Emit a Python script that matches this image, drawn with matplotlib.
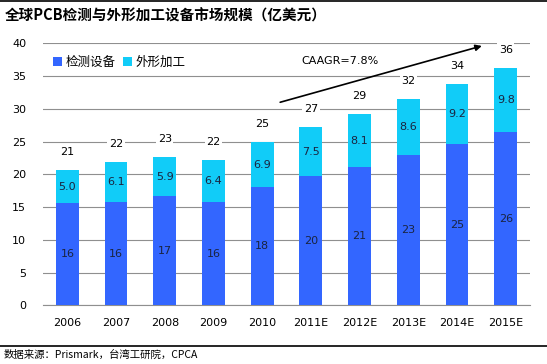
import matplotlib.pyplot as plt
import numpy as np

plt.rcParams['font.family'] = ['DejaVu Sans', 'Noto Sans CJK SC']

# data (亿美元)
years = ["2006", "2007", "2008", "2009", "2010",
         "2011E", "2012E", "2013E", "2014E", "2015E"]
inspect = [15.6, 15.8, 16.7, 15.8, 18.0, 19.7, 21.1, 22.9, 24.6, 26.4]
shaping = [5.0, 6.1, 5.9, 6.4, 6.9, 7.5, 8.1, 8.6, 9.2, 9.8]
yticks = [0, 5, 10, 15, 20, 25, 30, 35, 40]

blue = '#3366ff'
cyan = '#11ccf8'
grid = '#8f8f8f'
txt = '#1a2440'

fig = plt.figure(figsize=(5.47, 3.64), dpi=100)
ax = fig.add_axes([0.0786, 0.1613, 0.8904, 0.7197])

x = np.arange(len(years))
w = 0.47
totals = np.array(inspect) + np.array(shaping)

ax.bar(x, inspect, w, color=blue, label='检测设备', zorder=3)
ax.bar(x, shaping, w, bottom=inspect, color=cyan, label='外形加工', zorder=3)

for i in range(len(years)):
    ax.text(x[i], inspect[i] / 2, f"{inspect[i]:.0f}", ha='center', va='center',
            fontsize=8, color=txt, zorder=4)
    ax.text(x[i], inspect[i] + shaping[i] / 2, f"{shaping[i]:.1f}", ha='center',
            va='center', fontsize=8, color=txt, zorder=4)
    ax.annotate(f"{totals[i]:.0f}", (x[i], totals[i]), xytext=(0, 13),
                textcoords='offset points', ha='center', va='center', fontsize=8,
                color='black', zorder=4,
                bbox=dict(boxstyle='square,pad=0.15', fc='white', ec='none'))

ax.set_xlim(-0.5, len(years) - 0.5)
ax.set_ylim(0, 40)
ax.set_yticks(yticks)
ax.set_xticks(x)
ax.set_xticklabels(years)
ax.yaxis.grid(True, color=grid, lw=0.8, zorder=0)
ax.set_axisbelow(True)
for s in ['left', 'right', 'top']:
    ax.spines[s].set_visible(False)
ax.spines['bottom'].set_color(grid)
ax.tick_params(axis='both', length=0, labelsize=8, colors='black')
ax.tick_params(axis='y', pad=12)
ax.tick_params(axis='x', pad=9)

leg = ax.legend(loc='upper left', bbox_to_anchor=(0.01, 0.97), ncol=2, frameon=False,
                fontsize=9, handlelength=0.7, handleheight=0.7, handletextpad=0.3,
                columnspacing=0.6, borderaxespad=0)

ax.annotate('', xy=(8.51, 39.6), xytext=(4.37, 31.0),
            arrowprops=dict(arrowstyle='-|>', color='black', lw=1.2,
                            mutation_scale=9, shrinkA=0, shrinkB=0), zorder=5)
ax.text(5.6, 37.3, 'CAAGR=7.8%', fontsize=8, ha='center', va='center', zorder=5,
        bbox=dict(boxstyle='square,pad=0.1', fc='white', ec='none'))

fig.text(0.009, 0.958, '全球PCB检测与外形加工设备市场规模（亿美元）',
         fontsize=10.5, fontweight='bold', ha='left', va='center',
         family=['Noto Sans CJK SC', 'DejaVu Sans'])
fig.add_artist(plt.Line2D([0, 1], [0.997, 0.997], color='black', lw=1.2))
fig.add_artist(plt.Line2D([0, 1], [0.0495, 0.0495], color='black', lw=1.2))
fig.text(0.006, 0.025, '数据来源：Prismark，台湾工研院，CPCA', fontsize=7.5,
         ha='left', va='center', family=['Noto Sans CJK SC', 'DejaVu Sans'])

fig.savefig('out.png', dpi=100)
